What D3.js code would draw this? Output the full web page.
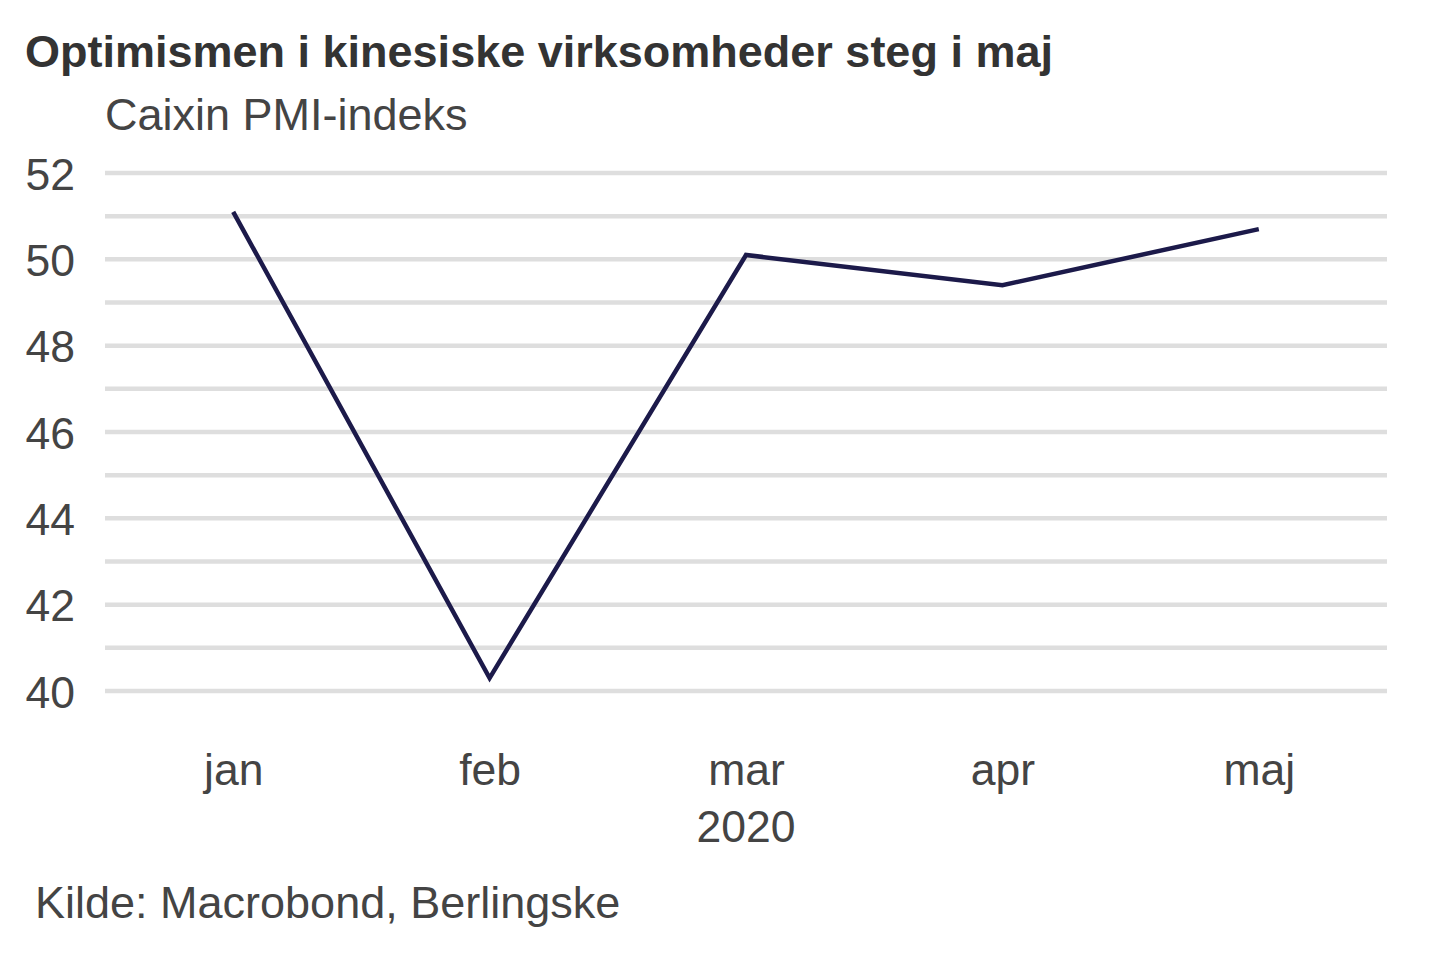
<!DOCTYPE html>
<html>
<head>
<meta charset="utf-8">
<script src="https://cdn.jsdelivr.net/npm/d3@7"></script>
<style>
  html, body { margin: 0; padding: 0; background: #ffffff; }
  svg { display: block; }
  text { font-family: "Liberation Sans", Arial, sans-serif; }
</style>
</head>
<body>
<svg id="chart" width="1440" height="960"></svg>
<script>
const months = ["jan", "feb", "mar", "apr", "maj"];
const pmiValues = [51.1, 40.3, 50.1, 49.4, 50.7];
const yTickLabels = [40, 42, 44, 46, 48, 50, 52];
const gridValues = [40, 41, 42, 43, 44, 45, 46, 47, 48, 49, 50, 51, 52];
const yearLabel = "2020";
const titleText = "Optimismen i kinesiske virksomheder steg i maj";
const subtitleText = "Caixin PMI-indeks";
const sourceText = "Kilde: Macrobond, Berlingske";

(function () {
const svg = d3.select("#chart");
const plotLeft = 105, plotRight = 1387, plotTop = 173, plotBottom = 691;

const x = d3.scalePoint().domain(months).range([plotLeft, plotRight]).padding(0.5);
const y = d3.scaleLinear().domain([40, 52]).range([plotBottom, plotTop]);

// title + subtitle
svg.append("text").attr("x", 25).attr("y", 67)
  .attr("font-size", 45).attr("font-weight", "bold").attr("fill", "#333333")
  .text(titleText);
svg.append("text").attr("x", 105).attr("y", 130)
  .attr("font-size", 45).attr("fill", "#444444")
  .text(subtitleText);

// gridlines
svg.append("g").selectAll("line").data(gridValues).join("line")
  .attr("x1", plotLeft).attr("x2", plotRight)
  .attr("y1", d => y(d)).attr("y2", d => y(d))
  .attr("stroke", "#dedede").attr("stroke-width", 4.5);

// y axis labels
const yAxis = d3.axisLeft(y).tickValues(yTickLabels).tickSize(0).tickPadding(0);
const yg = svg.append("g").attr("transform", "translate(75,0)").call(yAxis);
yg.select(".domain").remove();
yg.selectAll("text").attr("font-size", 44.5).attr("fill", "#444444")
  .attr("font-family", "'Liberation Sans', Arial, sans-serif")
  .attr("dy", "0.36em");

// x axis labels
const xAxis = d3.axisBottom(x).tickSize(0).tickPadding(0);
const xg = svg.append("g").attr("transform", "translate(0,785)").call(xAxis);
xg.select(".domain").remove();
xg.selectAll("text").attr("font-size", 44.5).attr("fill", "#444444")
  .attr("font-family", "'Liberation Sans', Arial, sans-serif")
  .attr("dy", 0).attr("y", 0);

svg.append("text").attr("x", x("mar")).attr("y", 842)
  .attr("text-anchor", "middle").attr("font-size", 44.5).attr("fill", "#444444")
  .text(yearLabel);

// line
const line = d3.line().x((d, i) => x(months[i])).y(d => y(d));
svg.append("path").datum(pmiValues)
  .attr("d", line).attr("fill", "none")
  .attr("stroke", "#1c1a4a").attr("stroke-width", 4.5)
  .attr("stroke-linejoin", "miter");

// source
svg.append("text").attr("x", 35).attr("y", 918)
  .attr("font-size", 45).attr("fill", "#444444")
  .text(sourceText);
})();
</script>
</body>
</html>
